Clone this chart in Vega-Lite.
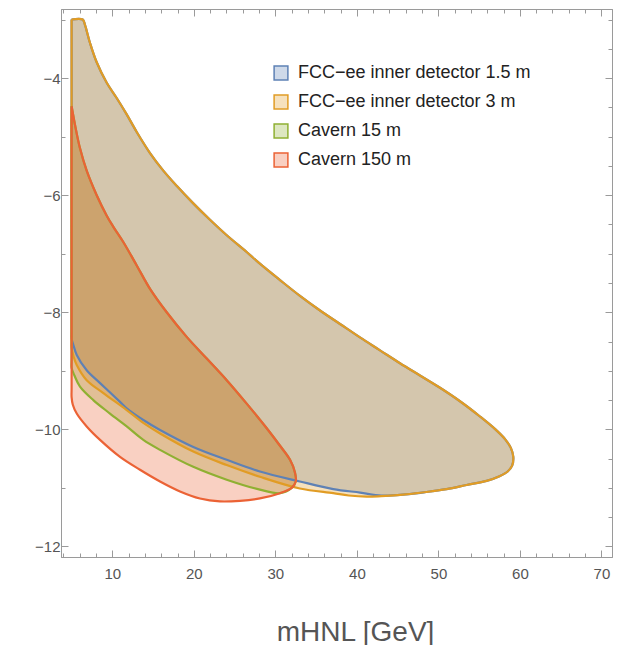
{
  "$schema": "https://vega.github.io/schema/vega-lite/v6.json",
  "width": 551,
  "height": 548,
  "autosize": "none",
  "padding": {"left": 61, "top": 9, "right": 8, "bottom": 88},
  "background": "white",
  "config": {
    "font": "Liberation Sans",
    "view": {"stroke": "#9a9a9a", "strokeWidth": 1}
  },
  "datasets": {
    "regions": [
      {"s": "FCC−ee inner detector 1.5 m", "i": 1, "x": 5, "y": -3},
      {"s": "FCC−ee inner detector 1.5 m", "i": 2, "x": 6.36, "y": -3},
      {"s": "FCC−ee inner detector 1.5 m", "i": 3, "x": 6.64, "y": -3.09},
      {"s": "FCC−ee inner detector 1.5 m", "i": 4, "x": 7.26, "y": -3.4},
      {"s": "FCC−ee inner detector 1.5 m", "i": 5, "x": 8.08, "y": -3.73},
      {"s": "FCC−ee inner detector 1.5 m", "i": 6, "x": 9.31, "y": -4.08},
      {"s": "FCC−ee inner detector 1.5 m", "i": 7, "x": 10.53, "y": -4.34},
      {"s": "FCC−ee inner detector 1.5 m", "i": 8, "x": 11.76, "y": -4.62},
      {"s": "FCC−ee inner detector 1.5 m", "i": 9, "x": 12.99, "y": -4.92},
      {"s": "FCC−ee inner detector 1.5 m", "i": 10, "x": 14.62, "y": -5.28},
      {"s": "FCC−ee inner detector 1.5 m", "i": 11, "x": 16.25, "y": -5.58},
      {"s": "FCC−ee inner detector 1.5 m", "i": 12, "x": 17.89, "y": -5.84},
      {"s": "FCC−ee inner detector 1.5 m", "i": 13, "x": 19.93, "y": -6.14},
      {"s": "FCC−ee inner detector 1.5 m", "i": 14, "x": 21.98, "y": -6.42},
      {"s": "FCC−ee inner detector 1.5 m", "i": 15, "x": 24.0, "y": -6.68},
      {"s": "FCC−ee inner detector 1.5 m", "i": 16, "x": 26.48, "y": -6.97},
      {"s": "FCC−ee inner detector 1.5 m", "i": 17, "x": 28.1, "y": -7.17},
      {"s": "FCC−ee inner detector 1.5 m", "i": 18, "x": 30.57, "y": -7.45},
      {"s": "FCC−ee inner detector 1.5 m", "i": 19, "x": 33.02, "y": -7.72},
      {"s": "FCC−ee inner detector 1.5 m", "i": 20, "x": 35.48, "y": -7.97},
      {"s": "FCC−ee inner detector 1.5 m", "i": 21, "x": 37.93, "y": -8.2},
      {"s": "FCC−ee inner detector 1.5 m", "i": 22, "x": 40.38, "y": -8.43},
      {"s": "FCC−ee inner detector 1.5 m", "i": 23, "x": 42.84, "y": -8.65},
      {"s": "FCC−ee inner detector 1.5 m", "i": 24, "x": 45.29, "y": -8.87},
      {"s": "FCC−ee inner detector 1.5 m", "i": 25, "x": 47.74, "y": -9.08},
      {"s": "FCC−ee inner detector 1.5 m", "i": 26, "x": 50.2, "y": -9.29},
      {"s": "FCC−ee inner detector 1.5 m", "i": 27, "x": 52.65, "y": -9.52},
      {"s": "FCC−ee inner detector 1.5 m", "i": 28, "x": 55.1, "y": -9.78},
      {"s": "FCC−ee inner detector 1.5 m", "i": 29, "x": 57.0, "y": -10.0},
      {"s": "FCC−ee inner detector 1.5 m", "i": 30, "x": 58.2, "y": -10.17},
      {"s": "FCC−ee inner detector 1.5 m", "i": 31, "x": 58.9, "y": -10.32},
      {"s": "FCC−ee inner detector 1.5 m", "i": 32, "x": 59.19, "y": -10.47},
      {"s": "FCC−ee inner detector 1.5 m", "i": 33, "x": 59.05, "y": -10.62},
      {"s": "FCC−ee inner detector 1.5 m", "i": 34, "x": 58.5, "y": -10.72},
      {"s": "FCC−ee inner detector 1.5 m", "i": 35, "x": 57.5, "y": -10.8},
      {"s": "FCC−ee inner detector 1.5 m", "i": 36, "x": 55.92, "y": -10.88},
      {"s": "FCC−ee inner detector 1.5 m", "i": 37, "x": 53.47, "y": -10.95},
      {"s": "FCC−ee inner detector 1.5 m", "i": 38, "x": 51.0, "y": -11.02},
      {"s": "FCC−ee inner detector 1.5 m", "i": 39, "x": 48.5, "y": -11.07},
      {"s": "FCC−ee inner detector 1.5 m", "i": 40, "x": 46.0, "y": -11.11},
      {"s": "FCC−ee inner detector 1.5 m", "i": 41, "x": 43.0, "y": -11.13},
      {"s": "FCC−ee inner detector 1.5 m", "i": 42, "x": 40.4, "y": -11.08},
      {"s": "FCC−ee inner detector 1.5 m", "i": 43, "x": 37.1, "y": -11.02},
      {"s": "FCC−ee inner detector 1.5 m", "i": 44, "x": 33.0, "y": -10.89},
      {"s": "FCC−ee inner detector 1.5 m", "i": 45, "x": 28.1, "y": -10.72},
      {"s": "FCC−ee inner detector 1.5 m", "i": 46, "x": 24.03, "y": -10.52},
      {"s": "FCC−ee inner detector 1.5 m", "i": 47, "x": 19.93, "y": -10.3},
      {"s": "FCC−ee inner detector 1.5 m", "i": 48, "x": 15.85, "y": -10.01},
      {"s": "FCC−ee inner detector 1.5 m", "i": 49, "x": 13.8, "y": -9.84},
      {"s": "FCC−ee inner detector 1.5 m", "i": 50, "x": 11.76, "y": -9.64},
      {"s": "FCC−ee inner detector 1.5 m", "i": 51, "x": 10.94, "y": -9.53},
      {"s": "FCC−ee inner detector 1.5 m", "i": 52, "x": 8.49, "y": -9.21},
      {"s": "FCC−ee inner detector 1.5 m", "i": 53, "x": 6.85, "y": -8.99},
      {"s": "FCC−ee inner detector 1.5 m", "i": 54, "x": 5.63, "y": -8.73},
      {"s": "FCC−ee inner detector 1.5 m", "i": 55, "x": 5.2, "y": -8.55},
      {"s": "FCC−ee inner detector 1.5 m", "i": 56, "x": 5, "y": -8.45},
      {"s": "FCC−ee inner detector 1.5 m", "i": 57, "x": 5, "y": -8.3},
      {"s": "FCC−ee inner detector 1.5 m", "i": 58, "x": 5, "y": -3},

      {"s": "FCC−ee inner detector 3 m", "i": 1, "x": 5, "y": -3},
      {"s": "FCC−ee inner detector 3 m", "i": 2, "x": 6.36, "y": -3},
      {"s": "FCC−ee inner detector 3 m", "i": 3, "x": 6.64, "y": -3.09},
      {"s": "FCC−ee inner detector 3 m", "i": 4, "x": 7.26, "y": -3.4},
      {"s": "FCC−ee inner detector 3 m", "i": 5, "x": 8.08, "y": -3.73},
      {"s": "FCC−ee inner detector 3 m", "i": 6, "x": 9.31, "y": -4.08},
      {"s": "FCC−ee inner detector 3 m", "i": 7, "x": 10.53, "y": -4.34},
      {"s": "FCC−ee inner detector 3 m", "i": 8, "x": 11.76, "y": -4.62},
      {"s": "FCC−ee inner detector 3 m", "i": 9, "x": 12.99, "y": -4.92},
      {"s": "FCC−ee inner detector 3 m", "i": 10, "x": 14.62, "y": -5.28},
      {"s": "FCC−ee inner detector 3 m", "i": 11, "x": 16.25, "y": -5.58},
      {"s": "FCC−ee inner detector 3 m", "i": 12, "x": 17.89, "y": -5.84},
      {"s": "FCC−ee inner detector 3 m", "i": 13, "x": 19.93, "y": -6.14},
      {"s": "FCC−ee inner detector 3 m", "i": 14, "x": 21.98, "y": -6.42},
      {"s": "FCC−ee inner detector 3 m", "i": 15, "x": 24.0, "y": -6.68},
      {"s": "FCC−ee inner detector 3 m", "i": 16, "x": 26.48, "y": -6.97},
      {"s": "FCC−ee inner detector 3 m", "i": 17, "x": 28.1, "y": -7.17},
      {"s": "FCC−ee inner detector 3 m", "i": 18, "x": 30.57, "y": -7.45},
      {"s": "FCC−ee inner detector 3 m", "i": 19, "x": 33.02, "y": -7.72},
      {"s": "FCC−ee inner detector 3 m", "i": 20, "x": 35.48, "y": -7.97},
      {"s": "FCC−ee inner detector 3 m", "i": 21, "x": 37.93, "y": -8.2},
      {"s": "FCC−ee inner detector 3 m", "i": 22, "x": 40.38, "y": -8.43},
      {"s": "FCC−ee inner detector 3 m", "i": 23, "x": 42.84, "y": -8.65},
      {"s": "FCC−ee inner detector 3 m", "i": 24, "x": 45.29, "y": -8.87},
      {"s": "FCC−ee inner detector 3 m", "i": 25, "x": 47.74, "y": -9.08},
      {"s": "FCC−ee inner detector 3 m", "i": 26, "x": 50.2, "y": -9.29},
      {"s": "FCC−ee inner detector 3 m", "i": 27, "x": 52.65, "y": -9.52},
      {"s": "FCC−ee inner detector 3 m", "i": 28, "x": 55.1, "y": -9.78},
      {"s": "FCC−ee inner detector 3 m", "i": 29, "x": 57.0, "y": -10.0},
      {"s": "FCC−ee inner detector 3 m", "i": 30, "x": 58.2, "y": -10.17},
      {"s": "FCC−ee inner detector 3 m", "i": 31, "x": 58.9, "y": -10.32},
      {"s": "FCC−ee inner detector 3 m", "i": 32, "x": 59.19, "y": -10.47},
      {"s": "FCC−ee inner detector 3 m", "i": 33, "x": 59.05, "y": -10.62},
      {"s": "FCC−ee inner detector 3 m", "i": 34, "x": 58.5, "y": -10.72},
      {"s": "FCC−ee inner detector 3 m", "i": 35, "x": 57.5, "y": -10.8},
      {"s": "FCC−ee inner detector 3 m", "i": 36, "x": 55.92, "y": -10.88},
      {"s": "FCC−ee inner detector 3 m", "i": 37, "x": 53.47, "y": -10.95},
      {"s": "FCC−ee inner detector 3 m", "i": 38, "x": 51.0, "y": -11.02},
      {"s": "FCC−ee inner detector 3 m", "i": 39, "x": 48.5, "y": -11.07},
      {"s": "FCC−ee inner detector 3 m", "i": 40, "x": 46.0, "y": -11.11},
      {"s": "FCC−ee inner detector 3 m", "i": 41, "x": 43.0, "y": -11.14},
      {"s": "FCC−ee inner detector 3 m", "i": 42, "x": 41.2, "y": -11.15},
      {"s": "FCC−ee inner detector 3 m", "i": 43, "x": 39.0, "y": -11.13},
      {"s": "FCC−ee inner detector 3 m", "i": 44, "x": 37.1, "y": -11.09},
      {"s": "FCC−ee inner detector 3 m", "i": 45, "x": 33.0, "y": -11.01},
      {"s": "FCC−ee inner detector 3 m", "i": 46, "x": 28.1, "y": -10.81},
      {"s": "FCC−ee inner detector 3 m", "i": 47, "x": 24.03, "y": -10.61},
      {"s": "FCC−ee inner detector 3 m", "i": 48, "x": 19.93, "y": -10.38},
      {"s": "FCC−ee inner detector 3 m", "i": 49, "x": 15.85, "y": -10.07},
      {"s": "FCC−ee inner detector 3 m", "i": 50, "x": 13.8, "y": -9.89},
      {"s": "FCC−ee inner detector 3 m", "i": 51, "x": 11.76, "y": -9.67},
      {"s": "FCC−ee inner detector 3 m", "i": 52, "x": 8.9, "y": -9.38},
      {"s": "FCC−ee inner detector 3 m", "i": 53, "x": 6.85, "y": -9.16},
      {"s": "FCC−ee inner detector 3 m", "i": 54, "x": 5.63, "y": -8.9},
      {"s": "FCC−ee inner detector 3 m", "i": 55, "x": 5.25, "y": -8.76},
      {"s": "FCC−ee inner detector 3 m", "i": 56, "x": 5, "y": -8.6},
      {"s": "FCC−ee inner detector 3 m", "i": 57, "x": 5, "y": -8.45},
      {"s": "FCC−ee inner detector 3 m", "i": 58, "x": 5, "y": -3},

      {"s": "Cavern 15 m", "i": 1, "x": 5, "y": -4.48},
      {"s": "Cavern 15 m", "i": 2, "x": 5.42, "y": -4.8},
      {"s": "Cavern 15 m", "i": 3, "x": 6.03, "y": -5.2},
      {"s": "Cavern 15 m", "i": 4, "x": 6.85, "y": -5.58},
      {"s": "Cavern 15 m", "i": 5, "x": 8.08, "y": -6.0},
      {"s": "Cavern 15 m", "i": 6, "x": 9.31, "y": -6.35},
      {"s": "Cavern 15 m", "i": 7, "x": 10.12, "y": -6.54},
      {"s": "Cavern 15 m", "i": 8, "x": 11.34, "y": -6.8},
      {"s": "Cavern 15 m", "i": 9, "x": 12.99, "y": -7.2},
      {"s": "Cavern 15 m", "i": 10, "x": 14.62, "y": -7.6},
      {"s": "Cavern 15 m", "i": 11, "x": 16.67, "y": -8.0},
      {"s": "Cavern 15 m", "i": 12, "x": 19.12, "y": -8.42},
      {"s": "Cavern 15 m", "i": 13, "x": 21.58, "y": -8.79},
      {"s": "Cavern 15 m", "i": 14, "x": 24.03, "y": -9.16},
      {"s": "Cavern 15 m", "i": 15, "x": 26.48, "y": -9.56},
      {"s": "Cavern 15 m", "i": 16, "x": 28.94, "y": -9.98},
      {"s": "Cavern 15 m", "i": 17, "x": 30.57, "y": -10.28},
      {"s": "Cavern 15 m", "i": 18, "x": 31.8, "y": -10.52},
      {"s": "Cavern 15 m", "i": 19, "x": 32.41, "y": -10.74},
      {"s": "Cavern 15 m", "i": 20, "x": 32.5, "y": -10.89},
      {"s": "Cavern 15 m", "i": 21, "x": 32.0, "y": -11.0},
      {"s": "Cavern 15 m", "i": 22, "x": 30.57, "y": -11.09},
      {"s": "Cavern 15 m", "i": 23, "x": 28.1, "y": -11.03},
      {"s": "Cavern 15 m", "i": 24, "x": 24.03, "y": -10.86},
      {"s": "Cavern 15 m", "i": 25, "x": 19.93, "y": -10.64},
      {"s": "Cavern 15 m", "i": 26, "x": 15.85, "y": -10.35},
      {"s": "Cavern 15 m", "i": 27, "x": 13.8, "y": -10.18},
      {"s": "Cavern 15 m", "i": 28, "x": 11.76, "y": -9.95},
      {"s": "Cavern 15 m", "i": 29, "x": 9.71, "y": -9.73},
      {"s": "Cavern 15 m", "i": 30, "x": 7.66, "y": -9.5},
      {"s": "Cavern 15 m", "i": 31, "x": 6.03, "y": -9.27},
      {"s": "Cavern 15 m", "i": 32, "x": 5.35, "y": -9.08},
      {"s": "Cavern 15 m", "i": 33, "x": 5, "y": -8.95},
      {"s": "Cavern 15 m", "i": 34, "x": 5, "y": -8.8},
      {"s": "Cavern 15 m", "i": 35, "x": 5, "y": -4.48},

      {"s": "Cavern 150 m", "i": 1, "x": 5, "y": -4.48},
      {"s": "Cavern 150 m", "i": 2, "x": 5.42, "y": -4.8},
      {"s": "Cavern 150 m", "i": 3, "x": 6.03, "y": -5.2},
      {"s": "Cavern 150 m", "i": 4, "x": 6.85, "y": -5.58},
      {"s": "Cavern 150 m", "i": 5, "x": 8.08, "y": -6.0},
      {"s": "Cavern 150 m", "i": 6, "x": 9.31, "y": -6.35},
      {"s": "Cavern 150 m", "i": 7, "x": 10.12, "y": -6.54},
      {"s": "Cavern 150 m", "i": 8, "x": 11.34, "y": -6.8},
      {"s": "Cavern 150 m", "i": 9, "x": 12.99, "y": -7.2},
      {"s": "Cavern 150 m", "i": 10, "x": 14.62, "y": -7.6},
      {"s": "Cavern 150 m", "i": 11, "x": 16.67, "y": -8.0},
      {"s": "Cavern 150 m", "i": 12, "x": 19.12, "y": -8.42},
      {"s": "Cavern 150 m", "i": 13, "x": 21.58, "y": -8.79},
      {"s": "Cavern 150 m", "i": 14, "x": 24.03, "y": -9.16},
      {"s": "Cavern 150 m", "i": 15, "x": 26.48, "y": -9.56},
      {"s": "Cavern 150 m", "i": 16, "x": 28.94, "y": -9.98},
      {"s": "Cavern 150 m", "i": 17, "x": 30.57, "y": -10.28},
      {"s": "Cavern 150 m", "i": 18, "x": 31.8, "y": -10.52},
      {"s": "Cavern 150 m", "i": 19, "x": 32.41, "y": -10.74},
      {"s": "Cavern 150 m", "i": 20, "x": 32.5, "y": -10.89},
      {"s": "Cavern 150 m", "i": 21, "x": 32.0, "y": -11.0},
      {"s": "Cavern 150 m", "i": 22, "x": 30.57, "y": -11.09},
      {"s": "Cavern 150 m", "i": 23, "x": 28.1, "y": -11.18},
      {"s": "Cavern 150 m", "i": 24, "x": 25.66, "y": -11.22},
      {"s": "Cavern 150 m", "i": 25, "x": 23.2, "y": -11.23},
      {"s": "Cavern 150 m", "i": 26, "x": 20.75, "y": -11.18},
      {"s": "Cavern 150 m", "i": 27, "x": 18.3, "y": -11.06},
      {"s": "Cavern 150 m", "i": 28, "x": 15.85, "y": -10.89},
      {"s": "Cavern 150 m", "i": 29, "x": 13.39, "y": -10.69},
      {"s": "Cavern 150 m", "i": 30, "x": 10.94, "y": -10.47},
      {"s": "Cavern 150 m", "i": 31, "x": 8.49, "y": -10.18},
      {"s": "Cavern 150 m", "i": 32, "x": 6.85, "y": -9.95},
      {"s": "Cavern 150 m", "i": 33, "x": 5.63, "y": -9.73},
      {"s": "Cavern 150 m", "i": 34, "x": 5.15, "y": -9.58},
      {"s": "Cavern 150 m", "i": 35, "x": 5, "y": -9.45},
      {"s": "Cavern 150 m", "i": 36, "x": 5, "y": -9.3},
      {"s": "Cavern 150 m", "i": 37, "x": 5, "y": -4.48}
    ]
  },
  "data": {"name": "regions"},
  "layer": [
    {
      "transform": [{"filter": "datum.s === 'FCC−ee inner detector 1.5 m'"}],
      "mark": {"type": "line", "interpolate": "catmull-rom", "strokeWidth": 0, "fillOpacity": 0.3},
      "encoding": {
        "x": {
          "field": "x", "type": "quantitative",
          "scale": {"domain": [3.7, 71.3], "nice": false, "zero": false},
          "axis": {
            "orient": "bottom", "grid": false, "format": "d",
            "values": [4, 6, 8, 10, 12, 14, 16, 18, 20, 22, 24, 26, 28, 30, 32, 34, 36, 38, 40, 42, 44, 46, 48, 50, 52, 54, 56, 58, 60, 62, 64, 66, 68, 70],
            "labelExpr": "datum.value % 10 === 0 ? datum.label : ''",
            "tickSize": {"condition": {"test": "datum.value % 10 === 0", "value": -7}, "value": -4},
            "tickColor": "#9a9a9a", "domainColor": "#9a9a9a",
            "labelColor": "#555555", "labelFontSize": 15, "labelPadding": 16,
            "title": "mHNL [GeV]", "titleFontSize": 28, "titleFontWeight": "normal",
            "titleColor": "#555555", "titlePadding": 37, "titleX": 294
          }
        },
        "y": {
          "field": "y", "type": "quantitative",
          "scale": {"domain": [-12.18, -2.82], "nice": false, "zero": false},
          "axis": {
            "orient": "left", "grid": false, "format": "d",
            "values": [-12, -11.5, -11, -10.5, -10, -9.5, -9, -8.5, -8, -7.5, -7, -6.5, -6, -5.5, -5, -4.5, -4, -3.5, -3],
            "labelExpr": "datum.value % 2 === 0 ? datum.label : ''",
            "tickSize": {"condition": {"test": "datum.value % 2 === 0", "value": -7}, "value": -4},
            "tickColor": "#9a9a9a", "domainColor": "#9a9a9a",
            "labelColor": "#555555", "labelFontSize": 15, "labelPadding": 8,
            "title": null
          }
        },
        "order": {"field": "i", "type": "quantitative"},
        "fill": {
          "field": "s", "type": "nominal",
          "scale": {"domain": ["FCC−ee inner detector 1.5 m", "FCC−ee inner detector 3 m", "Cavern 15 m", "Cavern 150 m"], "range": ["#5E81B5", "#E19C24", "#8FB032", "#EB6235"]},
          "legend": {
            "orient": "none", "legendX": 211, "legendY": 55, "title": null, "padding": 0,
            "symbolType": "square", "symbolSize": 190, "symbolStrokeWidth": 1.5,
            "labelFontSize": 18, "labelColor": "#222222", "labelFont": "Liberation Sans", "labelLimit": 0,
            "rowPadding": 9, "labelOffset": 8,
            "encode": {"symbols": {"update": {"fillOpacity": {"value": 0.3}, "strokeOpacity": {"value": 1}, "strokeWidth": {"value": 1.5}}}}
          }
        }
      }
    },
    {
      "transform": [{"filter": "datum.s === 'FCC−ee inner detector 3 m'"}],
      "mark": {"type": "line", "interpolate": "catmull-rom", "strokeWidth": 0, "fillOpacity": 0.3},
      "encoding": {
        "x": {"field": "x", "type": "quantitative", "axis": null},
        "y": {"field": "y", "type": "quantitative", "axis": null},
        "order": {"field": "i", "type": "quantitative"},
        "fill": {"field": "s", "type": "nominal"}
      }
    },
    {
      "transform": [{"filter": "datum.s === 'Cavern 15 m'"}],
      "mark": {"type": "line", "interpolate": "catmull-rom", "strokeWidth": 0, "fillOpacity": 0.3},
      "encoding": {
        "x": {"field": "x", "type": "quantitative", "axis": null},
        "y": {"field": "y", "type": "quantitative", "axis": null},
        "order": {"field": "i", "type": "quantitative"},
        "fill": {"field": "s", "type": "nominal"}
      }
    },
    {
      "transform": [{"filter": "datum.s === 'Cavern 150 m'"}],
      "mark": {"type": "line", "interpolate": "catmull-rom", "strokeWidth": 0, "fillOpacity": 0.3},
      "encoding": {
        "x": {"field": "x", "type": "quantitative", "axis": null},
        "y": {"field": "y", "type": "quantitative", "axis": null},
        "order": {"field": "i", "type": "quantitative"},
        "fill": {"field": "s", "type": "nominal"}
      }
    },
    {
      "transform": [{"filter": "datum.s === 'FCC−ee inner detector 1.5 m'"}],
      "mark": {"type": "line", "interpolate": "catmull-rom", "strokeWidth": 2.2, "strokeJoin": "round"},
      "encoding": {
        "x": {"field": "x", "type": "quantitative", "axis": null},
        "y": {"field": "y", "type": "quantitative", "axis": null},
        "order": {"field": "i", "type": "quantitative"},
        "stroke": {
          "field": "s", "type": "nominal",
          "scale": {"domain": ["FCC−ee inner detector 1.5 m", "FCC−ee inner detector 3 m", "Cavern 15 m", "Cavern 150 m"], "range": ["#5E81B5", "#E19C24", "#8FB032", "#EB6235"]},
          "legend": {
            "orient": "none", "legendX": 211, "legendY": 55, "title": null, "padding": 0,
            "symbolType": "square", "symbolSize": 190, "symbolStrokeWidth": 1.5,
            "labelFontSize": 18, "labelColor": "#222222", "labelFont": "Liberation Sans", "labelLimit": 0,
            "rowPadding": 9, "labelOffset": 8,
            "encode": {"symbols": {"update": {"fillOpacity": {"value": 0.3}, "strokeOpacity": {"value": 1}, "strokeWidth": {"value": 1.5}}}}
          }
        }
      }
    },
    {
      "transform": [{"filter": "datum.s === 'FCC−ee inner detector 3 m'"}],
      "mark": {"type": "line", "interpolate": "catmull-rom", "strokeWidth": 2.2, "strokeJoin": "round"},
      "encoding": {
        "x": {"field": "x", "type": "quantitative", "axis": null},
        "y": {"field": "y", "type": "quantitative", "axis": null},
        "order": {"field": "i", "type": "quantitative"},
        "stroke": {"field": "s", "type": "nominal"}
      }
    },
    {
      "transform": [{"filter": "datum.s === 'Cavern 15 m'"}],
      "mark": {"type": "line", "interpolate": "catmull-rom", "strokeWidth": 2.2, "strokeJoin": "round"},
      "encoding": {
        "x": {"field": "x", "type": "quantitative", "axis": null},
        "y": {"field": "y", "type": "quantitative", "axis": null},
        "order": {"field": "i", "type": "quantitative"},
        "stroke": {"field": "s", "type": "nominal"}
      }
    },
    {
      "transform": [{"filter": "datum.s === 'Cavern 150 m'"}],
      "mark": {"type": "line", "interpolate": "catmull-rom", "strokeWidth": 2.2, "strokeJoin": "round"},
      "encoding": {
        "x": {
          "field": "x", "type": "quantitative",
          "axis": {
            "orient": "top", "grid": false, "labels": false, "title": null,
            "values": [4, 6, 8, 10, 12, 14, 16, 18, 20, 22, 24, 26, 28, 30, 32, 34, 36, 38, 40, 42, 44, 46, 48, 50, 52, 54, 56, 58, 60, 62, 64, 66, 68, 70],
            "tickSize": {"condition": {"test": "datum.value % 10 === 0", "value": -7}, "value": -4},
            "tickColor": "#9a9a9a", "domainColor": "#9a9a9a"
          }
        },
        "y": {
          "field": "y", "type": "quantitative",
          "axis": {
            "orient": "right", "grid": false, "labels": false, "title": null,
            "values": [-12, -11.5, -11, -10.5, -10, -9.5, -9, -8.5, -8, -7.5, -7, -6.5, -6, -5.5, -5, -4.5, -4, -3.5, -3],
            "tickSize": {"condition": {"test": "datum.value % 2 === 0", "value": -7}, "value": -4},
            "tickColor": "#9a9a9a", "domainColor": "#9a9a9a"
          }
        },
        "order": {"field": "i", "type": "quantitative"},
        "stroke": {"field": "s", "type": "nominal"}
      }
    }
  ],
  "resolve": {"axis": {"x": "independent", "y": "independent"}}
}
